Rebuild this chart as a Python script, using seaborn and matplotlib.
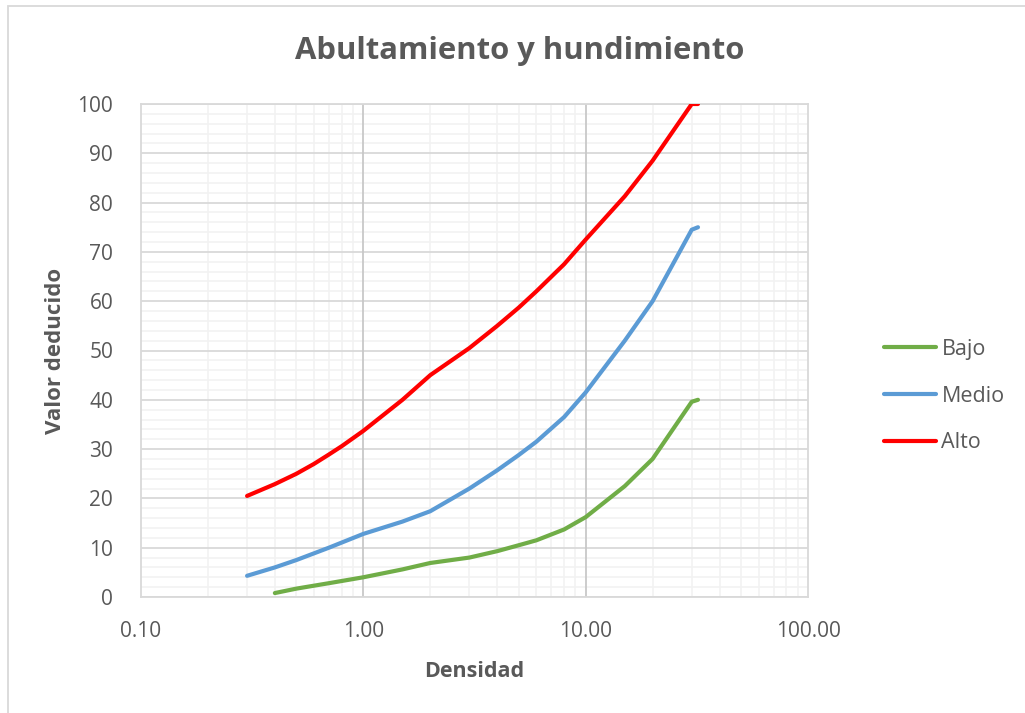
import numpy as np
import pandas as pd
import matplotlib
matplotlib.use("Agg")
import matplotlib.pyplot as plt
import seaborn as sns
from matplotlib.ticker import FixedLocator, FuncFormatter, MultipleLocator
from matplotlib.patches import Rectangle
from matplotlib.lines import Line2D

# Deduct-value curves by severity level
series_names = ["Bajo", "Medio", "Alto"]
bajo_x = [0.4, 0.5, 0.7, 1, 1.5, 2, 3, 4, 5, 6, 8, 10, 15, 20, 30, 32]
bajo_y = [0.8, 1.7, 2.8, 4.0, 5.6, 6.9, 8.0, 9.3, 10.5, 11.5, 13.7, 16.2, 22.5, 28.0, 39.6, 40.0]
medio_x = [0.3, 0.4, 0.5, 0.7, 1, 1.5, 2, 3, 4, 5, 6, 8, 10, 15, 20, 30, 32]
medio_y = [4.3, 6.0, 7.5, 10.0, 12.8, 15.3, 17.4, 22.0, 25.7, 28.8, 31.5, 36.5, 41.5, 52.0, 60.0, 74.5, 75.0]
alto_x = [0.3, 0.4, 0.5, 0.6, 0.7, 0.8, 1, 1.5, 2, 3, 4, 5, 6, 8, 10, 15, 20, 30, 32]
alto_y = [20.5, 22.9, 25.0, 27.0, 28.9, 30.6, 33.7, 40.0, 45.0, 50.5, 55.0, 58.7, 62.0, 67.5, 72.5, 81.3, 88.5, 100.0, 100.0]
x_ticks = [0.1, 1, 10, 100]
y_ticks = list(range(0, 101, 10))

colors = {"Bajo": "#70AD47", "Medio": "#5B9BD5", "Alto": "#FF0000"}
text_color = "#595959"

frames = []
for name, xs, ys in [("Bajo", bajo_x, bajo_y), ("Medio", medio_x, medio_y), ("Alto", alto_x, alto_y)]:
    frames.append(pd.DataFrame({"Densidad": xs, "Valor": ys, "Serie": name}))
df = pd.concat(frames, ignore_index=True)

sns.set_style("white")
plt.rcParams["font.family"] = ["Open Sans", "DejaVu Sans"]

fig = plt.figure(figsize=(10.25, 7.13), dpi=100)
ax = fig.add_axes([141 / 1025, 1 - 597 / 713, (808 - 141) / 1025, (597 - 104) / 713])

sns.lineplot(data=df, x="Densidad", y="Valor", hue="Serie", hue_order=series_names,
             palette=colors, estimator=None, sort=False, linewidth=3.0,
             legend=False, ax=ax, zorder=5)
for line in ax.get_lines():
    line.set_solid_capstyle("round")
    line.set_solid_joinstyle("round")

ax.set_xscale("log")
ax.set_xlim(0.1, 100)
ax.set_ylim(0, 100)

ax.xaxis.set_major_locator(FixedLocator(x_ticks))
ax.xaxis.set_major_formatter(FuncFormatter(lambda v, p: f"{v:.2f}"))
ax.xaxis.set_minor_locator(FixedLocator([m * d for d in (0.1, 1, 10) for m in range(2, 10)]))
ax.xaxis.set_minor_formatter(FuncFormatter(lambda v, p: ""))
ax.yaxis.set_major_locator(FixedLocator(y_ticks))
ax.yaxis.set_minor_locator(MultipleLocator(2))

# light minor grid, then heavier major lines on top of it
ax.grid(which="minor", axis="both", color="#F2F2F2", linewidth=1.2)
ax.grid(which="major", axis="y", color="#D9D9D9", linewidth=1.3)
ax.grid(which="major", axis="x", visible=False)
ax.set_axisbelow(True)
for xv in x_ticks[1:-1]:
    ax.axvline(xv, color="#C8C8C8", linewidth=1.3, zorder=1.5)

for side in ["left", "bottom", "top", "right"]:
    ax.spines[side].set_color("#D9D9D9")
    ax.spines[side].set_linewidth(1.3)

ax.tick_params(axis="both", which="both", length=0, labelsize=15, labelcolor=text_color)
ax.tick_params(axis="x", pad=17)
ax.tick_params(axis="y", pad=20)

ax.set_xlabel("Densidad", fontsize=15.5, fontweight="bold", color=text_color, labelpad=14)
ax.set_ylabel("Valor deducido", fontsize=16, fontweight="bold", color=text_color, labelpad=8)

fig.text(520 / 1025, 1 - 51 / 713, "Abultamiento y hundimiento", ha="center", va="center",
         fontsize=22.3, fontweight="bold", color=text_color)

handles = [Line2D([0], [0], color=colors[n], linewidth=3.0, solid_capstyle="round") for n in series_names]
fig.legend(handles, series_names, loc="center left", bbox_to_anchor=(865 / 1025, 1 - 396 / 713),
           frameon=False, fontsize=15.5, labelcolor=text_color, handlelength=2.4,
           handletextpad=0.25, labelspacing=1.2)

fig.patches.append(Rectangle((8 / 1025, -0.05), 1.2, 1 - 6 / 713 + 0.05, transform=fig.transFigure,
                             fill=False, edgecolor="#D9D9D9", linewidth=1.3, zorder=0))

fig.savefig("out.png", dpi=100, facecolor="white")
